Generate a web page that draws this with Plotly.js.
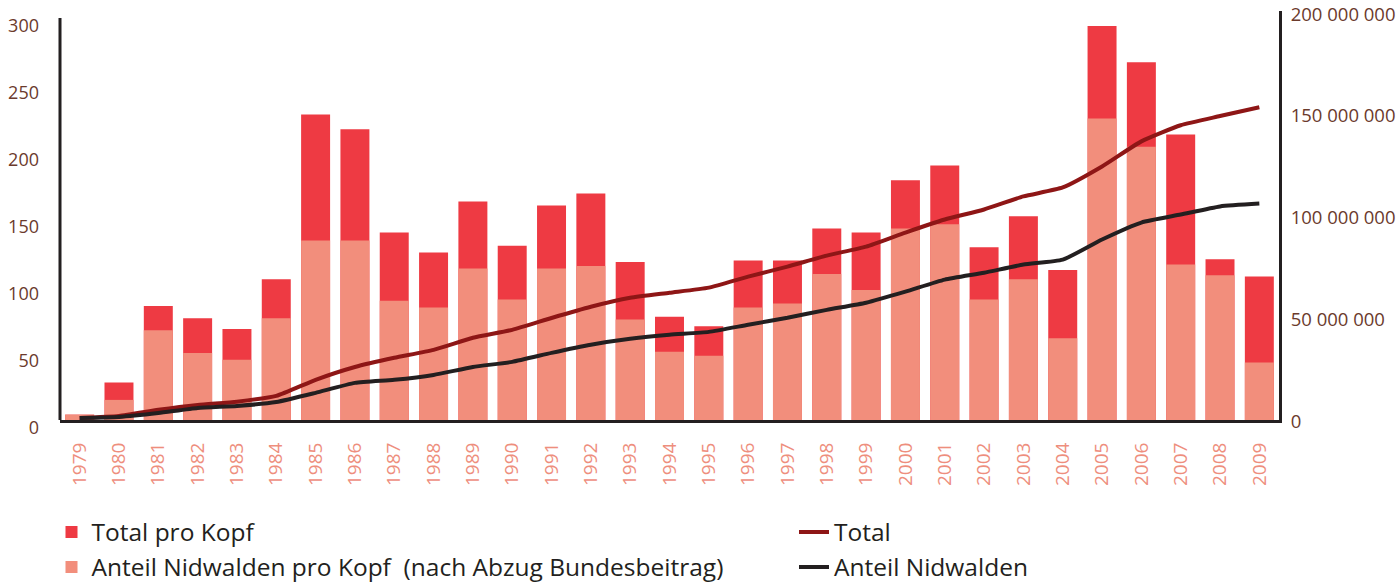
<!DOCTYPE html>
<html>
<head>
<meta charset="utf-8">
<script src="https://cdn.plot.ly/plotly-3.0.1.min.js"></script>
<style>html,body{margin:0;padding:0;background:#fff;}#chart{width:1397px;height:583px;}</style>
</head>
<body>
<div id="chart"></div>
<script>
const years = ['1979','1980','1981','1982','1983','1984','1985','1986','1987','1988','1989','1990','1991','1992','1993','1994','1995','1996','1997','1998','1999','2000','2001','2002','2003','2004','2005','2006','2007','2008','2009'];

const totalProKopf = [4, 28, 85, 76, 68, 105, 228, 217, 140, 125, 163, 130, 160, 169, 118, 77, 70, 119, 119, 143, 140, 179, 190, 129, 152, 112, 294, 267, 213, 120, 107];

const anteilProKopf = [4, 15, 67, 50, 45, 76, 134, 134, 89, 84, 113, 90, 113, 115, 75, 51, 48, 84, 87, 109, 97, 143, 146, 90, 105, 61, 225, 204, 116, 108, 43];

const totalBetrag = [1000000, 2000000, 5000000, 7400000, 9000000, 11800000, 19700000, 26000000, 30500000, 34400000, 40300000, 44200000, 50000000, 55500000, 59900000, 62400000, 64900000, 70300000, 75200000, 80600000, 85000000, 91900000, 98300000, 103200000, 109600000, 114000000, 124300000, 136600000, 144500000, 149000000, 153300000];

const anteilBetrag = [1000000, 1500000, 3400000, 5900000, 6900000, 8800000, 13300000, 18200000, 19700000, 22100000, 26000000, 28500000, 32900000, 36900000, 39800000, 41800000, 43200000, 46700000, 50100000, 54000000, 57500000, 62900000, 68800000, 72200000, 76200000, 78600000, 88500000, 96800000, 100700000, 104700000, 106100000];

const leftTicks = [0, 50, 100, 150, 200, 250, 300];
const rightTicks = [0, 50000000, 100000000, 150000000, 200000000];

const traces = [
  {type:'bar', name:'Total pro Kopf', x:years, y:totalProKopf, marker:{color:'#EE3A43'}, legend:'legend', hoverinfo:'x+y'},
  {type:'bar', name:'Anteil Nidwalden pro Kopf\u00a0 (nach Abzug Bundesbeitrag)', x:years, y:anteilProKopf, marker:{color:'#F28E7C'}, legend:'legend2', hoverinfo:'x+y'},
  {type:'scatter', mode:'lines', name:'Total', x:years, y:totalBetrag, yaxis:'y2', line:{color:'#8E1616', width:4, shape:'spline', smoothing:0.5}, legend:'legend3'},
  {type:'scatter', mode:'lines', name:'Anteil Nidwalden', x:years, y:anteilBetrag, yaxis:'y2', line:{color:'#231F20', width:4, shape:'spline', smoothing:0.5}, legend:'legend4'}
];

const W = 1397, H = 583;
const legBase = {xref:'container', yref:'container', xanchor:'left', yanchor:'middle', bgcolor:'rgba(0,0,0,0)', font:{family:'Open Sans', size:24.5, color:'#231F20'}};

const layout = {
  width:W, height:H,
  margin:{l:60, r:118, t:11, b:163, pad:0, autoexpand:false},
  barmode:'overlay', bargap:0.263,
  paper_bgcolor:'#ffffff', plot_bgcolor:'#ffffff',
  font:{family:'Open Sans', size:18, color:'#6B3A2C'},
  separators:'. ',
  showlegend:true,
  xaxis:{type:'category', range:[-0.5, 30.5], tickmode:'linear', dtick:1, tickangle:-90, tickfont:{family:'Open Sans', size:19, color:'#EE8E7D'},
         showline:true, linewidth:3, linecolor:'#231F20', ticks:'', showgrid:false, zeroline:false, ticklabelstandoff:12, automargin:false},
  yaxis:{range:[0, 305.22], tickvals:leftTicks, showgrid:false, zeroline:false, showline:false, ticks:'',
         ticklabelshift:8, ticklabelstandoff:20, ticklabeloverflow:'allow', tickfont:{size:18, color:'#6B3A2C'}, automargin:false},
  yaxis2:{overlaying:'y', side:'right', range:[0, 200500000], tickvals:rightTicks, tickformat:',d', showline:true, linewidth:3,
          linecolor:'#231F20', showgrid:false, zeroline:false, ticks:'', ticklabelstandoff:5, ticklabelshift:2, ticklabeloverflow:'allow', tickfont:{size:18.5, color:'#6B3A2C'}, automargin:false},
  shapes:[
    {type:'line', xref:'paper', yref:'y', x0:0, x1:0, y0:0, y1:300, line:{color:'#231F20', width:3}}
  ],
  legend: Object.assign({}, legBase, {x:51.5/W, y:1-532/H}),
  legend2: Object.assign({}, legBase, {x:51.5/W, y:1-567/H}),
  legend3: Object.assign({}, legBase, {x:794/W, y:1-532/H}),
  legend4: Object.assign({}, legBase, {x:794/W, y:1-567/H})
};

Plotly.newPlot('chart', traces, layout, {displayModeBar:false, staticPlot:true});
</script>
</body>
</html>
